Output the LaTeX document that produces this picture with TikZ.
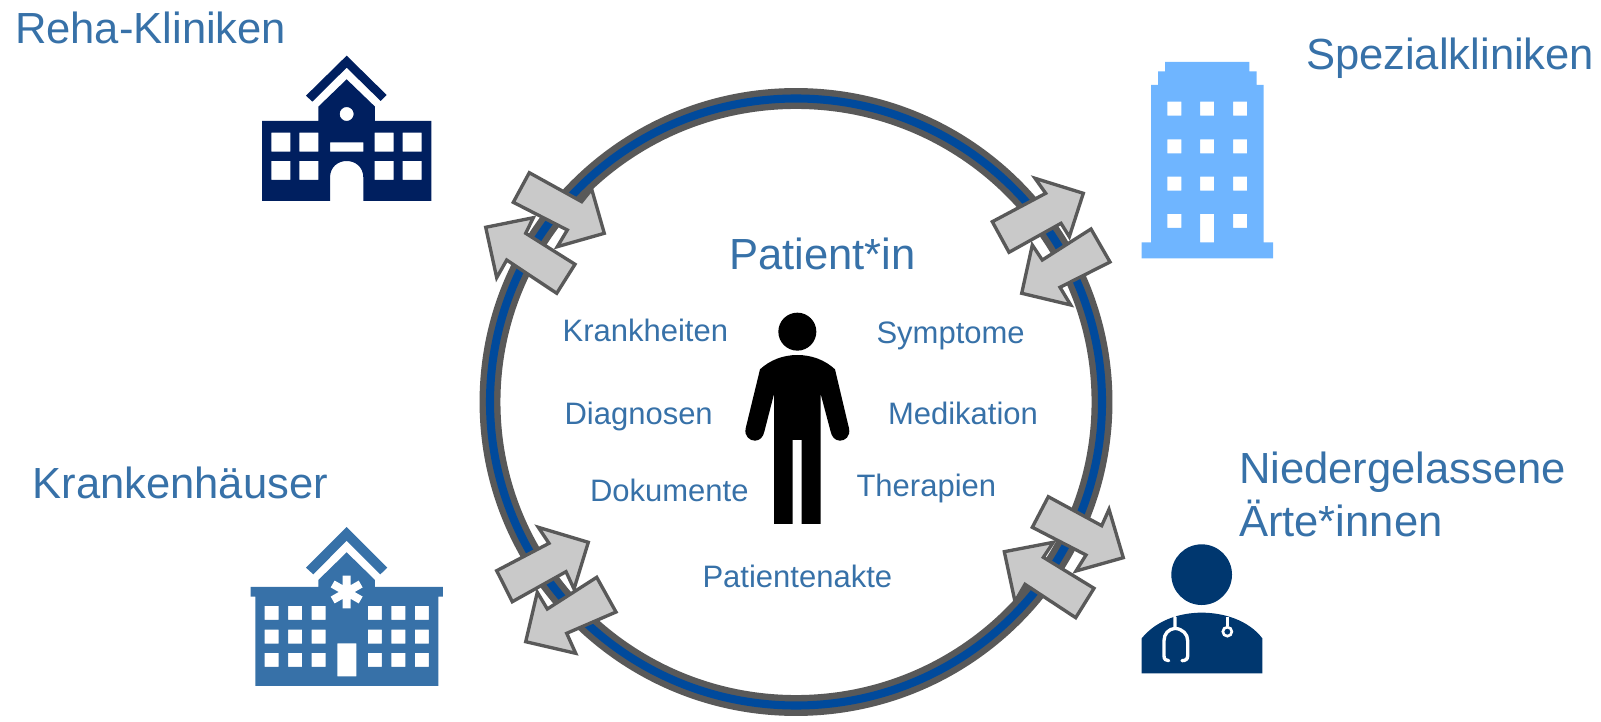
\documentclass[tikz,border=0pt]{standalone}
\usepackage{fontspec}
\setmainfont{Liberation Sans}
\definecolor{txt}{HTML}{3771A8}
\definecolor{navy}{HTML}{001F5F}
\definecolor{sky}{HTML}{6FB5FF}
\definecolor{doc}{HTML}{00376F}
\definecolor{ringblue}{HTML}{004A9C}
\definecolor{ringgray}{HTML}{595959}
\definecolor{arrowgray}{HTML}{C9C9C9}
\tikzset{
  big/.style={text=txt,font=\fontsize{24.8}{30}\selectfont,anchor=base west,inner sep=0pt,outer sep=0pt},
  small/.style={text=txt,font=\fontsize{17.65}{21}\selectfont,anchor=base west,inner sep=0pt,outer sep=0pt},
  flow/.style={draw=ringgray,fill=arrowgray,line width=1.9pt,line join=miter},
  zoomed/.style={x=0.00666667cm,y=-0.00666667cm}
}
\begin{document}
\begin{tikzpicture}[x=0.02cm,y=-0.02cm]
\useasboundingbox (0,0) rectangle (1601,722);
% ring
\draw[ringgray,line width=11.9pt] (796,402) ellipse [x radius=306,y radius=303.5];
\draw[ringblue,line width=4.6pt] (796,402) ellipse [x radius=306,y radius=303.5];
% top-left arrows
\draw[flow] (529.3,172.7)--(581.7,201.7)--(591.7,189.3)--(604.3,233.3)--(557.3,246.7)--(567.3,230)--(513.3,202.3)--cycle;
\draw[flow] (485.7,227.3)--(533.3,217.7)--(525.7,233.3)--(575,264.3)--(556.7,293.3)--(506.7,260)--(496.7,277.7)--cycle;
% top-right arrows
\draw[flow] (992.3,221.7)--(1045.7,193.3)--(1035,178.3)--(1083.3,193.3)--(1069.3,236.7)--(1061,223.3)--(1009,252.3)--cycle;
\draw[flow] (1021.7,293.3)--(1032.3,245)--(1042.3,260)--(1091,229)--(1110,262)--(1060,287.3)--(1070.7,305)--cycle;
% bottom-right arrows
\draw[flow] (1048.3,496.7)--(1101.7,525.7)--(1109,509.3)--(1123.3,557.7)--(1076,571)--(1086,555)--(1032.3,527.3)--cycle;
\draw[flow] (1004.3,551.7)--(1053.3,542.3)--(1043.3,557.3)--(1094,588.3)--(1075.7,617.7)--(1025,584.3)--(1015,601.7)--cycle;
% bottom-left arrows
\draw[flow] (496.7,570.7)--(549,543.3)--(538.3,527.3)--(588.3,542.3)--(574,589)--(566,571.7)--(512.3,601.7)--cycle;
\draw[flow] (525.7,641.7)--(537.3,592.3)--(547.3,609)--(596.7,577.3)--(616,612)--(566.7,633.3)--(575.7,653.3)--cycle;
% Reha-Klinik
\begin{scope}[shift={(230,40)},zoomed]
\fill[navy] (350,47)--(228,167)--(247,185)--(350,83)--(452,183)--(470,165)--cycle;
\fill[navy,even odd rule] (350,118)--(265,200)--(265,243)--(96,243)--(96,483)--(300,483)--(300,413) .. controls (300,380) and (325,363) .. (350,363) .. controls (375,363) and (400,380) .. (400,413)--(400,483)--(604,483)--(604,243)--(435,243)--(435,200)--cycle
 (124,278) rectangle (181,335) (208,278) rectangle (265,335) (434,278) rectangle (491,335) (518,278) rectangle (575,335)
 (124,363) rectangle (181,420) (208,363) rectangle (265,420) (434,363) rectangle (491,420) (518,363) rectangle (575,420)
 (300,307) rectangle (400,335)
 (350,222) circle [radius=0.14cm];
\end{scope}
% Spezialklinik
\begin{scope}[shift={(1110,50)},zoomed]
\fill[sky,even odd rule] (165,36)--(418,36)--(418,64)--(440,64)--(440,105)--(461,105)--(461,577)--(489,577)--(489,625)--(95,625)--(95,577)--(123,577)--(123,105)--(144,105)--(144,64)--(165,64)--cycle
 (172,155) rectangle (214,197) (270,155) rectangle (312,197) (369,155) rectangle (411,197)
 (172,268) rectangle (214,310) (270,268) rectangle (312,310) (369,268) rectangle (411,310)
 (172,380) rectangle (214,422) (270,380) rectangle (312,422) (369,380) rectangle (411,422)
 (172,492) rectangle (214,534) (270,492) rectangle (312,577) (369,492) rectangle (411,534);
\end{scope}
% Krankenhaus
\begin{scope}[shift={(230,515)},zoomed]
\fill[txt] (350,36)--(228,158)--(250,178)--(350,77)--(451,178)--(472,158)--cycle;
\fill[txt,even odd rule] (350,112)--(265,195)--(265,216)--(62,216)--(62,245)--(76,245)--(76,513)--(625,513)--(625,245)--(639,245)--(639,216)--(435,216)--(435,195)--cycle
 (104,273) rectangle (146,315) (174,273) rectangle (216,315) (245,273) rectangle (287,315) (414,273) rectangle (456,315) (484,273) rectangle (526,315) (555,273) rectangle (597,315)
 (104,344) rectangle (146,386) (174,344) rectangle (216,386) (245,344) rectangle (287,386) (414,344) rectangle (456,386) (484,344) rectangle (526,386) (555,344) rectangle (597,386)
 (104,414) rectangle (146,456) (174,414) rectangle (216,456) (245,414) rectangle (287,456) (414,414) rectangle (456,456) (484,414) rectangle (526,456) (555,414) rectangle (597,456)
 (322,385) rectangle (379,484);
\draw[white,line width=4.5pt] (350,182)--(350,280) (308,207)--(392,255) (308,255)--(392,207);
\end{scope}
% Arzt
\begin{scope}[shift={(1120,530)},zoomed]
\fill[doc] (245,134) circle [radius=0.607cm];
\fill[doc] (65,430)--(65,325) .. controls (110,270) and (180,248) .. (245,248) .. controls (310,248) and (385,270) .. (427,325)--(427,430)--cycle;
\draw[white,line width=1.9pt,line cap=round] (165,262)--(165,295) .. controls (145,297) and (132,312) .. (132,332)--(132,378) .. controls (132,388) and (138,392) .. (146,392);
\draw[white,line width=1.9pt,line cap=round] (165,295) .. controls (188,297) and (203,312) .. (203,332)--(203,378) .. controls (203,388) and (196,392) .. (186,392);
\draw[white,line width=1.5pt] (322,262)--(322,288);
\draw[white,line width=1.5pt] (322,305) circle [radius=0.09cm];
\end{scope}
% Patient
\begin{scope}[shift={(730,300)},zoomed]
\fill[black] (202,95) circle [radius=0.38cm];
\fill[black,line join=round] (202,165) .. controls (160,165) and (120,180) .. (90,208)--(47,385) .. controls (42,410) and (60,422) .. (75,422) .. controls (90,422) and (100,410) .. (103,395)--(132,282)--(132,672)--(188,672)--(188,420)--(215,420)--(215,672)--(272,672)--(272,282)--(302,395) .. controls (305,410) and (315,422) .. (330,422) .. controls (345,422) and (362,410) .. (357,385)--(315,208) .. controls (285,180) and (245,165) .. (202,165)--cycle;
\end{scope}
% labels
\node[big] (reha) at (15,44) {Reha-Kliniken};
\node[big] (spez) at (1306,70) {Spezialkliniken};
\node[big] (kh) at (32.5,498) {Krankenhäuser};
\node[big] (nied) at (1239,483) {Niedergelassene};
\node[big] (aerzte) at (1239,536) {Ärte*innen};
\node[big] (pat) at (729,270) {Patient*in};
\node[small] (krank) at (562.6,342) {Krankheiten};
\node[small] (sym) at (876.5,344) {Symptome};
\node[small] (diag) at (564.5,424) {Diagnosen};
\node[small] (med) at (888,424) {Medikation};
\node[small] (dok) at (590,501) {Dokumente};
\node[small] (ther) at (856.5,496) {Therapien};
\node[small] (akte) at (702.5,587) {Patientenakte};
\end{tikzpicture}
\end{document}
